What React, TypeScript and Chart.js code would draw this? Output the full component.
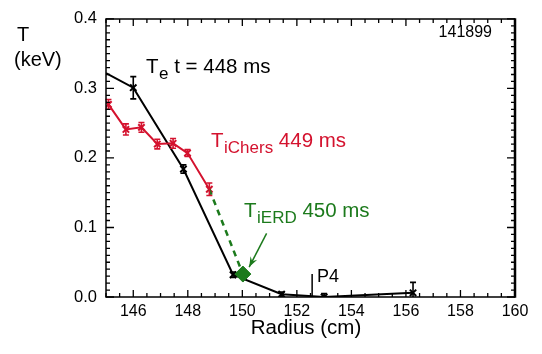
import React, { useEffect, useRef } from "react";
import { Chart, registerables } from "chart.js";
Chart.register(...registerables);

// ---- data ----
const teRadius = [145.0, 146.0, 147.84, 149.66, 151.44, 153.0, 156.26];
const teValues = [0.322, 0.301, 0.184, 0.032, 0.004, 0.0, 0.006];
const teErrors = [0, 0.016, 0.006, 0.004, 0.003, 0.005, 0.015];
const teMarkers = [0, 4.5, 4.5, 4.5, 4.5, 4.5, 4.5];

const tiRadius = [145.09, 145.73, 146.3, 146.88, 147.46, 147.99, 148.79];
const tiValues = [0.277, 0.241, 0.244, 0.22, 0.221, 0.207, 0.155];
const tiErrors = [0.007, 0.008, 0.007, 0.007, 0.007, 0.005, 0.009];

const erdRadius = [148.79, 150.02];
const erdValues = [0.155, 0.033];

const xTicks = [146, 148, 150, 152, 154, 156, 158, 160];
const yTicks = [0.0, 0.1, 0.2, 0.3, 0.4];
const xRange = [145, 160];
const yRange = [0, 0.4];

const arrowFrom = [150.89, 0.0915];
const arrowTo = [150.25, 0.043];
const p4Radius = 152.56;
const p4Top = 0.033;

const RED = "#d4122e";
const GREEN = "#1c7a1c";
const FONT = "'Liberation Sans', Arial, Helvetica, sans-serif";

const overlay = {
  id: "overlay",
  afterDatasetsDraw(chart: any) {
    const ctx = chart.ctx;
    const xs = chart.scales.x;
    const ys = chart.scales.y;
    const px = (v: number) => xs.getPixelForValue(v);
    const py = (v: number) => ys.getPixelForValue(v);
    const a = chart.chartArea;

    // error bars
    const drawErr = (xsArr: number[], vals: number[], errs: number[], color: string) => {
      ctx.save();
      ctx.strokeStyle = color;
      ctx.lineWidth = 1.6;
      for (let i = 0; i < xsArr.length; i++) {
        if (!errs[i]) continue;
        const x = px(xsArr[i]);
        const y1 = Math.min(py(vals[i] - errs[i]), a.bottom);
        const y2 = py(vals[i] + errs[i]);
        ctx.beginPath();
        ctx.moveTo(x, y1);
        ctx.lineTo(x, y2);
        ctx.moveTo(x - 3, y2);
        ctx.lineTo(x + 3, y2);
        if (y1 < a.bottom) {
          ctx.moveTo(x - 3, y1);
          ctx.lineTo(x + 3, y1);
        }
        ctx.stroke();
      }
      ctx.restore();
    };
    drawErr(teRadius, teValues, teErrors, "#000");
    drawErr(tiRadius, tiValues, tiErrors, RED);

    // arrow
    ctx.save();
    ctx.strokeStyle = GREEN;
    ctx.fillStyle = GREEN;
    ctx.lineWidth = 1.5;
    const ax1 = px(arrowFrom[0]), ay1 = py(arrowFrom[1]);
    const ax2 = px(arrowTo[0]), ay2 = py(arrowTo[1]);
    ctx.beginPath();
    ctx.moveTo(ax1, ay1);
    ctx.lineTo(ax2, ay2);
    ctx.stroke();
    const ang = Math.atan2(ay2 - ay1, ax2 - ax1);
    const hl = 11;
    ctx.beginPath();
    ctx.moveTo(ax2, ay2);
    ctx.lineTo(ax2 - hl * Math.cos(ang - 0.35), ay2 - hl * Math.sin(ang - 0.35));
    ctx.lineTo(ax2 - hl * 0.6 * Math.cos(ang), ay2 - hl * 0.6 * Math.sin(ang));
    ctx.lineTo(ax2 - hl * Math.cos(ang + 0.35), ay2 - hl * Math.sin(ang + 0.35));
    ctx.closePath();
    ctx.fill();
    ctx.restore();

    // P4 marker
    ctx.save();
    ctx.strokeStyle = "#000";
    ctx.lineWidth = 1.5;
    ctx.beginPath();
    ctx.moveTo(px(p4Radius), a.bottom);
    ctx.lineTo(px(p4Radius), py(p4Top));
    ctx.stroke();
    ctx.restore();
  },
  afterDraw(chart: any) {
    const ctx = chart.ctx;
    const xs = chart.scales.x;
    const ys = chart.scales.y;
    const a = chart.chartArea;
    ctx.save();
    ctx.strokeStyle = "#000";
    // box
    ctx.lineWidth = 1.5;
    ctx.beginPath();
    ctx.moveTo(a.right, a.top);
    ctx.lineTo(a.left, a.top);
    ctx.lineTo(a.left, a.bottom);
    ctx.lineTo(a.right, a.bottom);
    ctx.stroke();
    ctx.lineWidth = 2.5;
    ctx.beginPath();
    ctx.moveTo(a.right, a.top - 0.75);
    ctx.lineTo(a.right, a.bottom + 0.75);
    ctx.stroke();
    // ticks
    ctx.lineWidth = 1.3;
    ctx.beginPath();
    for (let i = 0; i <= 30; i++) {
      const v = xRange[0] + i * 0.5;
      const x = xs.getPixelForValue(v);
      const major = xTicks.includes(v);
      const len = major ? 7 : 4;
      ctx.moveTo(x, a.bottom);
      ctx.lineTo(x, a.bottom - len);
      ctx.moveTo(x, a.top);
      ctx.lineTo(x, a.top + len);
    }
    for (let i = 0; i <= 40; i++) {
      const v = i * 0.01;
      const y = ys.getPixelForValue(v);
      const major = i % 10 === 0;
      const len = major ? 8 : 4;
      ctx.moveTo(a.left, y);
      ctx.lineTo(a.left + len, y);
      ctx.moveTo(a.right, y);
      ctx.lineTo(a.right - len, y);
    }
    ctx.stroke();

    // texts
    ctx.textBaseline = "alphabetic";
    const sub = (x: number, y: number, main: string, s: string, rest: string, color: string, size: number, ssize: number) => {
      ctx.fillStyle = color;
      ctx.font = `${size}px ${FONT}`;
      ctx.fillText(main, x, y);
      let cx = x + ctx.measureText(main).width + 0.5;
      ctx.font = `${ssize}px ${FONT}`;
      ctx.fillText(s, cx, y + 6);
      cx += ctx.measureText(s).width;
      ctx.font = `${size}px ${FONT}`;
      ctx.fillText(rest, cx, y);
    };
    sub(146, 73, "T", "e", " t = 448 ms", "#000", 20.5, 17);
    sub(211, 147, "T", "iChers", " 449 ms", RED, 20.5, 17);
    sub(244, 217, "T", "iERD", " 450 ms", GREEN, 20.5, 17);

    ctx.fillStyle = "#000";
    ctx.font = `16px ${FONT}`;
    ctx.textAlign = "right";
    ctx.fillText("141899", 492, 37);
    ctx.textAlign = "left";
    ctx.font = `18px ${FONT}`;
    ctx.fillText("P4", 317, 282);
    ctx.font = `20px ${FONT}`;
    ctx.fillText("T", 17, 41);
    ctx.fillText("(keV)", 14, 66);
    ctx.textAlign = "center";
    ctx.font = `20.5px ${FONT}`;
    ctx.fillText("Radius (cm)", 306, 334);
    ctx.restore();
  },
};

export default function App() {
  const ref = useRef<HTMLCanvasElement>(null);
  useEffect(() => {
    if (!ref.current) return;
    const chart = new Chart(ref.current, {
      type: "scatter",
      data: {
        datasets: [
          {
            data: erdRadius.map((x, i) => ({ x, y: erdValues[i] })),
            showLine: true,
            borderColor: GREEN,
            borderWidth: 2.5,
            borderDash: [6, 5],
            pointStyle: "rectRot",
            pointRadius: [0, 8],
            pointBackgroundColor: GREEN,
            pointBorderColor: GREEN,
            pointBorderWidth: 1,
            order: 1,
          },
          {
            data: teRadius.map((x, i) => ({ x, y: teValues[i] })),
            showLine: true,
            borderColor: "#000",
            borderWidth: 2,
            pointStyle: "crossRot",
            pointRadius: teMarkers,
            pointBorderColor: "#000",
            pointBorderWidth: 2,
            order: 3,
          },
          {
            data: tiRadius.map((x, i) => ({ x, y: tiValues[i] })),
            showLine: true,
            borderColor: RED,
            borderWidth: 2,
            pointStyle: "crossRot",
            pointRadius: 4.5,
            pointBorderColor: RED,
            pointBorderWidth: 2,
            order: 2,
          },
        ],
      },
      options: {
        animation: false,
        responsive: false,
        layout: { padding: { top: 13, right: 27, left: 0, bottom: 0 } },
        plugins: { legend: { display: false }, tooltip: { enabled: false } },
        scales: {
          x: {
            type: "linear",
            min: xRange[0],
            max: xRange[1],
            grid: { display: false, drawTicks: false },
            border: { display: false },
            afterBuildTicks: (s: any) => {
              s.ticks = xTicks.map((v) => ({ value: v }));
            },
            afterFit: (s: any) => {
              s.height = 57;
            },
            ticks: {
              padding: 5,
              color: "#000",
              font: { family: FONT, size: 16 },
              maxRotation: 0,
              autoSkip: false,
              callback: (v: any) => String(v),
            },
          },
          y: {
            type: "linear",
            min: yRange[0],
            max: yRange[1],
            grid: { display: false, drawTicks: false },
            border: { display: false },
            afterBuildTicks: (s: any) => {
              s.ticks = yTicks.map((v) => ({ value: v }));
            },
            afterFit: (s: any) => {
              s.width = 106;
            },
            ticks: {
              padding: 9,
              color: "#000",
              font: { family: FONT, size: 16.5 },
              autoSkip: false,
              callback: (v: any) => Number(v).toFixed(1),
            },
          },
        },
      },
      plugins: [overlay],
    });
    return () => chart.destroy();
  }, []);
  return (
    <div style={{ position: "fixed", left: 0, top: 0, width: 542, height: 354, background: "#fff" }}>
      <canvas ref={ref} width={542} height={354} style={{ display: "block" }} />
    </div>
  );
}
